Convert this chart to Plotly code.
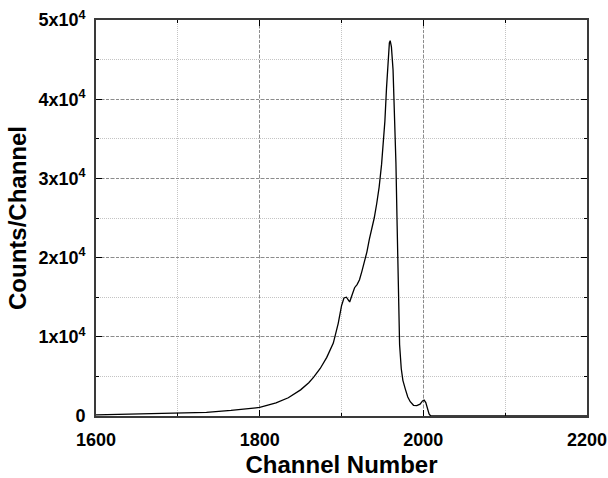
import plotly.graph_objects as go

# Spectrum: channel number vs counts per channel
channel = [1600, 1650, 1700, 1735, 1765, 1800, 1820, 1835, 1850, 1860, 1866, 1874,
           1882, 1890, 1896, 1900, 1903, 1906, 1908, 1910, 1913, 1916, 1919, 1922,
           1925, 1928, 1931, 1934, 1937, 1940, 1943, 1946, 1949, 1951, 1953, 1955,
           1957, 1958.5, 1959.5, 1961, 1963, 1965, 1966.5, 1968, 1969.5, 1971, 1973,
           1975, 1978, 1981, 1984, 1988, 1992, 1996, 1999, 2001, 2003, 2005, 2007,
           2009, 2050, 2100, 2200]
counts = [150, 230, 330, 450, 700, 1080, 1650, 2300, 3300, 4200, 4900, 6000,
          7400, 9200, 11700, 13900, 14900, 15000, 14700, 14400, 15300, 16200, 16600, 17200,
          18300, 19500, 20700, 22300, 23500, 25000, 26800, 28900, 31800, 34000, 37200, 41400,
          45300, 47100, 47400, 46600, 43700, 37500, 32000, 24000, 15000, 9000, 6000,
          4500, 3400, 2400, 1800, 1350, 1300, 1500, 1900, 2000, 1700, 900, 250,
          0, 0, 0, 0]

x_ticks = [1600, 1800, 2000, 2200]
y_ticks = [0, 10000, 20000, 30000, 40000, 50000]
y_labels = ["0", "1x10<sup>4</sup>", "2x10<sup>4</sup>", "3x10<sup>4</sup>",
            "4x10<sup>4</sup>", "5x10<sup>4</sup>"]

FONT = "Liberation Sans, Arial, sans-serif"

fig = go.Figure(go.Scatter(x=channel, y=counts, mode="lines",
                           line=dict(color="black", width=1.3)))

axis_common = dict(
    showline=True, linecolor="#3a3a3a", linewidth=1.8, mirror="ticks",
    ticks="inside", ticklen=6, tickcolor="black", tickwidth=1.2,
    showgrid=True, gridcolor="#8c8c8c", gridwidth=1, griddash="3px,2px",
    zeroline=False, automargin=False,
    tickfont=dict(family=FONT, size=18, color="black", weight="bold"),
)

minor_common = dict(ticks="inside", ticklen=3, tickcolor="black",
                    showgrid=True, gridcolor="#c4c4c4", griddash="1px,1px", gridwidth=1)

fig.update_xaxes(
    range=[1600, 2200], tickvals=x_ticks, ticktext=[str(v) for v in x_ticks],
    minor=dict(dtick=100, tick0=1600, **minor_common),
    ticklabelstandoff=6,
    title=dict(text="Channel Number", standoff=15,
               font=dict(family=FONT, size=24, color="black", weight="bold")),
    **axis_common,
)
fig.update_yaxes(
    range=[0, 50000], tickvals=y_ticks, ticktext=y_labels,
    minor=dict(dtick=5000, tick0=0, **minor_common),
    ticklabelstandoff=5,
    title=dict(text="Counts/Channel", standoff=5,
               font=dict(family=FONT, size=24, color="black", weight="bold")),
    **axis_common,
)

fig.update_layout(
    width=608, height=478,
    margin=dict(l=96, r=21, t=20, b=62, pad=0),
    paper_bgcolor="white", plot_bgcolor="white",
    showlegend=False,
)

fig.write_html("out.html")
